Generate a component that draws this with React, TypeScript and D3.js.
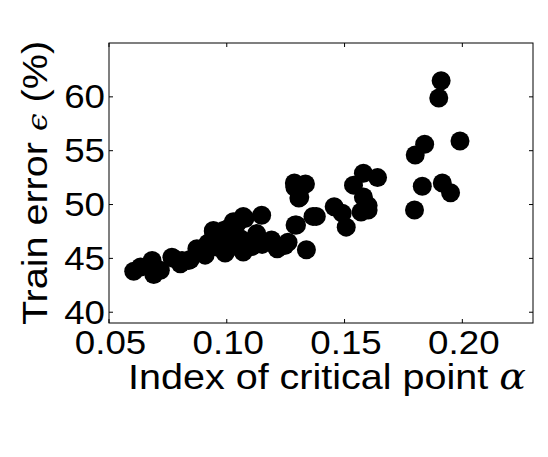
import React, { useRef, useEffect } from 'react';
import * as d3 from 'd3';

// index of critical point (alpha) vs train error (%)
const alphaValues = [
  0.0605, 0.0634, 0.0683, 0.069, 0.0718, 0.0767, 0.0774, 0.0803, 0.081, 0.0838,
  0.0845, 0.0873, 0.0887, 0.0908, 0.0943, 0.0943, 0.095, 0.0986, 0.0993, 0.1,
  0.1007, 0.1028, 0.1028, 0.1042, 0.107, 0.107, 0.1077, 0.1106, 0.1127, 0.1148,
  0.119, 0.121, 0.1214, 0.1246, 0.126, 0.1287, 0.1289, 0.129, 0.1296, 0.1306,
  0.131, 0.1334, 0.1338, 0.1366, 0.138, 0.1456, 0.149, 0.1507, 0.1538, 0.157,
  0.158, 0.158, 0.16, 0.16, 0.164, 0.1797, 0.18, 0.183, 0.184, 0.19,
  0.191, 0.1915, 0.195, 0.199,
  0.098, 0.103, 0.106, 0.101, 0.097, 0.109, 0.112, 0.115, 0.092, 0.0965,
];
const trainError = [
  43.8, 44.2, 44.8, 43.5, 43.9, 45.1, 45.0, 44.5, 44.8, 44.8,
  44.9, 45.9, 45.6, 45.3, 47.5, 47.6, 46.1, 47.6, 45.5, 45.8,
  47.8, 46.7, 48.4, 48.2, 48.9, 45.6, 48.7, 46.1, 47.3, 49.0,
  46.7, 46.1, 45.9, 46.2, 46.5, 52.0, 51.6, 48.1, 48.1, 50.6,
  50.7, 51.9, 45.8, 48.9, 48.9, 49.8, 49.2, 47.9, 51.8, 49.3,
  52.9, 50.7, 49.9, 49.5, 52.5, 49.5, 54.6, 51.7, 55.6, 59.9,
  61.5, 52.0, 51.1, 55.9,
  46.5, 47.2, 46.8, 46.0, 46.9, 46.4, 46.6, 46.3, 46.4, 46.0,
];
const xTicks = [0.05, 0.1, 0.15, 0.2];
const yTicks = [40, 45, 50, 55, 60];

const font = '"Liberation Sans", Arial, sans-serif';
const stretch = 1.13; // glyphs in the original are a bit wider than Liberation Sans

const App = () => {
  const ref = useRef<SVGSVGElement>(null);

  useEffect(() => {
    const svg = d3.select(ref.current);
    svg.selectAll('*').remove();

    const margin = { left: 109, right: 15, top: 43, bottom: 134 };
    const width = 548;
    const height = 457;

    const x = d3.scaleLinear().domain([0.05, 0.23]).range([margin.left, width - margin.right]);
    const y = d3.scaleLinear().domain([39, 65]).range([height - margin.bottom, margin.top]);

    const pts = alphaValues.map((a, i) => ({ a, e: trainError[i] }));

    // points
    svg.append('g')
      .selectAll('circle')
      .data(pts)
      .join('circle')
      .attr('cx', d => x(d.a))
      .attr('cy', d => y(d.e))
      .attr('r', 9.5)
      .attr('fill', 'black');

    // frame
    svg.append('rect')
      .attr('x', margin.left)
      .attr('y', margin.top)
      .attr('width', width - margin.left - margin.right)
      .attr('height', height - margin.top - margin.bottom)
      .attr('fill', 'none')
      .attr('stroke', 'black')
      .attr('stroke-width', 1);

    const tk = 4;
    const g = svg.append('g').attr('stroke', 'black').attr('stroke-width', 1);
    xTicks.forEach(t => {
      g.append('line').attr('x1', x(t)).attr('x2', x(t)).attr('y1', y(39)).attr('y2', y(39) - tk);
      g.append('line').attr('x1', x(t)).attr('x2', x(t)).attr('y1', y(65)).attr('y2', y(65) + tk);
    });
    yTicks.forEach(t => {
      g.append('line').attr('x1', x(0.05)).attr('x2', x(0.05) + tk).attr('y1', y(t)).attr('y2', y(t));
      g.append('line').attr('x1', x(0.23)).attr('x2', x(0.23) - tk).attr('y1', y(t)).attr('y2', y(t));
    });

    // tick labels
    svg.append('g')
      .selectAll('text')
      .data(xTicks)
      .join('text')
      .attr('transform', d => `translate(${x(d) + 1.5},354) scale(${stretch},1)`)
      .attr('text-anchor', 'middle')
      .style('font-family', font)
      .style('font-size', '32.5px')
      .text(d => d3.format('.2f')(d));

    svg.append('g')
      .selectAll('text')
      .data(yTicks)
      .join('text')
      .attr('transform', d => `translate(105,${y(d) + 11.5}) scale(${stretch},1)`)
      .attr('text-anchor', 'end')
      .style('font-family', font)
      .style('font-size', '32.5px')
      .text(d => d);

    // axis labels
    const xl = svg.append('text')
      .attr('transform', `translate(327,389) scale(${stretch},1)`)
      .attr('text-anchor', 'middle')
      .style('font-family', font)
      .style('font-size', '35px');
    xl.append('tspan').text('Index of critical point ');
    xl.append('tspan').style('font-style', 'italic').style('font-family', '"DejaVu Serif", serif').text('α');

    const yl = svg.append('text')
      .attr('transform', `translate(47,183) rotate(-90) scale(${stretch},1)`)
      .attr('text-anchor', 'middle')
      .style('font-family', font)
      .style('font-size', '35px');
    yl.append('tspan').text('Train error ');
    yl.append('tspan').style('font-style', 'italic').style('font-family', '"DejaVu Serif", serif').style('font-size', '28px').text('ϵ');
    yl.append('tspan').text(' (%)');
  }, []);

  return <svg ref={ref} width={548} height={457} style={{ display: 'block', margin: -8 }}></svg>;
};

export default App;
